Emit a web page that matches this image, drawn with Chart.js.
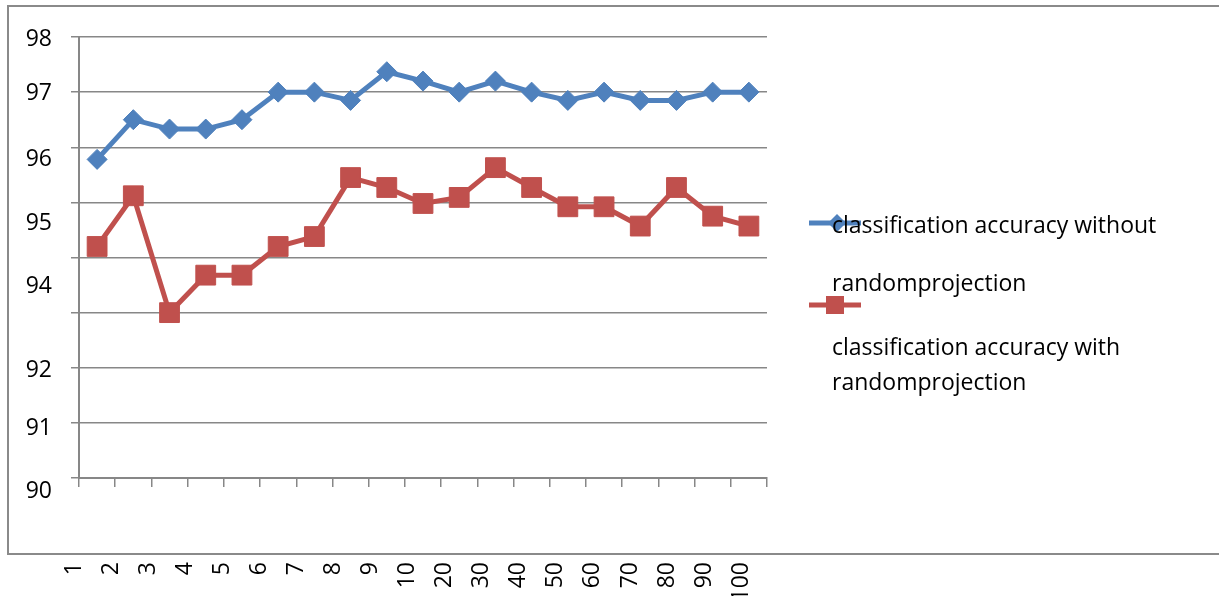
<!DOCTYPE html>
<html>
<head>
<meta charset="utf-8">
<script src="https://cdn.jsdelivr.net/npm/chart.js@4.4.1/dist/chart.umd.min.js"></script>
<style>
  html, body { margin: 0; padding: 0; background: #ffffff; }
  canvas { display: block; }
</style>
</head>
<body>
<canvas id="chart" width="1219" height="596"></canvas>
<script>
// Number of random projections / dimensions on the x axis
const categories = ['1', '2', '3', '4', '5', '6', '7', '8', '9', '10', '20', '30', '40', '50', '60', '70', '80', '90', '100'];

// Classification accuracy (%) without random projection
const accuracyWithout = [95.78, 96.5, 96.33, 96.33, 96.5, 97.0, 97.0, 96.85, 97.37, 97.2, 97.0, 97.2, 97.0, 96.85, 97.0, 96.85, 96.85, 97.0, 97.0];

// Classification accuracy (%) with random projection
const accuracyWith = [94.2, 95.12, 93.0, 93.68, 93.68, 94.2, 94.38, 95.45, 95.27, 94.98, 95.09, 95.63, 95.27, 94.92, 94.92, 94.57, 95.27, 94.75, 94.57];

// Value-axis labels as printed beside the axis
const yTickLabels = ['98', '97', '96', '95', '94', '92', '91', '90'];

// Series names, split into the lines used in the side legend
const seriesNames = [
  ['classification accuracy without', 'randomprojection'],
  ['classification accuracy with', 'randomprojection']
];

const BLUE = '#4F81BD';
const RED = '#C0504D';
const GRID = '#878787';
const FONT = "'Open Sans', sans-serif";

// Where each value-axis label sits, in axis units
const yLabelAt = [97.95, 96.98, 95.77, 94.62, 93.47, 91.95, 90.90, 89.75];

function zeroPadding(scale) {
  scale.paddingTop = 0;
  scale.paddingBottom = 0;
  scale.paddingLeft = 0;
  scale.paddingRight = 0;
}

// Outer frame around the whole chart object
const framePlugin = {
  id: 'frame',
  beforeDraw(chart) {
    const ctx = chart.ctx;
    ctx.save();
    ctx.fillStyle = '#ffffff';
    ctx.fillRect(0, 0, chart.width, chart.height);
    ctx.strokeStyle = '#8a8a8a';
    ctx.lineWidth = 2;
    ctx.strokeRect(8, 6, chart.width + 40, 548);
    ctx.restore();
  }
};

// Legend on the right with wrapped series names
const sideLegend = {
  id: 'sideLegend',
  afterDraw(chart) {
    const ctx = chart.ctx;
    const entries = [
      { markerY: 223, lineY: [226, 284] },
      { markerY: 305, lineY: [348, 383] }
    ];
    ctx.save();
    chart.data.datasets.forEach((ds, i) => {
      const e = entries[i];
      ctx.strokeStyle = ds.borderColor;
      ctx.fillStyle = ds.backgroundColor;
      ctx.lineWidth = 5;
      ctx.beginPath();
      ctx.moveTo(809, e.markerY);
      ctx.lineTo(861, e.markerY);
      ctx.stroke();
      ctx.beginPath();
      if (ds.pointStyle === 'rectRot') {
        const r = 9, cx = 837, cy = e.markerY;
        ctx.moveTo(cx, cy - r);
        ctx.lineTo(cx + r, cy);
        ctx.lineTo(cx, cy + r);
        ctx.lineTo(cx - r, cy);
        ctx.closePath();
      } else {
        ctx.rect(826, e.markerY - 9, 18, 18);
      }
      ctx.fill();
      ctx.fillStyle = '#000000';
      ctx.font = '23px ' + FONT;
      ctx.textAlign = 'left';
      ctx.textBaseline = 'middle';
      seriesNames[i].forEach((line, k) => ctx.fillText(line, 832, e.lineY[k]));
    });
    ctx.restore();
  }
};

new Chart(document.getElementById('chart'), {
  type: 'line',
  data: {
    labels: categories,
    datasets: [
      {
        label: seriesNames[0].join(' '),
        data: accuracyWithout,
        borderColor: BLUE,
        backgroundColor: BLUE,
        borderWidth: 5,
        pointStyle: 'rectRot',
        pointRadius: 10,
        pointBorderWidth: 1,
        tension: 0
      },
      {
        label: seriesNames[1].join(' '),
        data: accuracyWith,
        borderColor: RED,
        backgroundColor: RED,
        borderWidth: 5,
        pointStyle: 'rect',
        pointRadius: 14,
        pointBorderWidth: 1,
        tension: 0
      }
    ]
  },
  options: {
    responsive: false,
    animation: false,
    events: [],
    layout: { autoPadding: false, padding: { left: 0, top: 37, right: 452, bottom: 0 } },
    plugins: { legend: { display: false }, tooltip: { enabled: false } },
    scales: {
      x: {
        type: 'category',
        offset: true,
        weight: 0,
        grid: { offset: true, drawOnChartArea: false, drawTicks: true, tickLength: 9, color: GRID, lineWidth: 1.5 },
        border: { color: GRID, width: 2 },
        ticks: { display: false },
        afterFit: s => { s.height = 9; zeroPadding(s); }
      },
      xl: {
        type: 'linear',
        position: 'bottom',
        weight: 1,
        min: 0.135,
        max: 18.696,
        grid: { display: false, drawTicks: false },
        border: { display: false },
        ticks: {
          autoSkip: false,
          minRotation: 90,
          maxRotation: 90,
          padding: 75,
          color: '#000000',
          font: { family: FONT, size: 23 },
          callback: (v, i) => categories[i]
        },
        afterBuildTicks: s => { s.ticks = categories.map((_, i) => ({ value: i })); },
        afterFit: s => { s.height = 109; zeroPadding(s); }
      },
      y: {
        type: 'linear',
        position: 'left',
        weight: 0,
        min: 90,
        max: 98,
        ticks: { display: false, stepSize: 1 },
        grid: { color: GRID, lineWidth: 1.5, tickLength: 8 },
        border: { color: GRID, width: 2 },
        afterFit: s => { s.width = 8; zeroPadding(s); }
      },
      yl: {
        type: 'linear',
        position: 'left',
        weight: 1,
        min: 90,
        max: 98,
        grid: { display: false, drawTicks: false },
        border: { display: false },
        ticks: {
          autoSkip: false,
          padding: 19,
          color: '#000000',
          font: { family: FONT, size: 23 },
          callback: (v, i) => yTickLabels[i]
        },
        afterBuildTicks: s => { s.ticks = yLabelAt.map(v => ({ value: v })); },
        afterFit: s => { s.width = 71; zeroPadding(s); }
      }
    }
  },
  plugins: [framePlugin, sideLegend]
});
</script>
</body>
</html>
